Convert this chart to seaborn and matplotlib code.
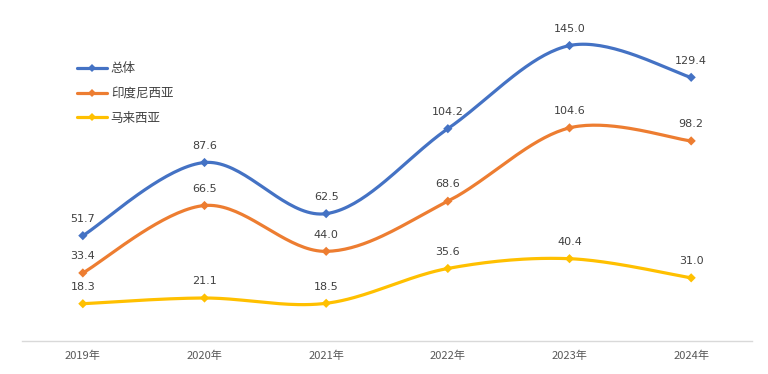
import numpy as np
import pandas as pd
import seaborn as sns
import matplotlib.pyplot as plt
from matplotlib.lines import Line2D

# datos
years = ['2019年', '2020年', '2021年', '2022年', '2023年', '2024年']
total = [51.7, 87.6, 62.5, 104.2, 145.0, 129.4]
indonesia = [33.4, 66.5, 44.0, 68.6, 104.6, 98.2]
malaysia = [18.3, 21.1, 18.5, 35.6, 40.4, 31.0]

series = {'总体': total, '印度尼西亚': indonesia, '马来西亚': malaysia}
colors = {'总体': '#4472C4', '印度尼西亚': '#ED7D31', '马来西亚': '#FFC000'}

df = pd.DataFrame({'year': years * 3,
                   'idx': list(range(len(years))) * 3,
                   'value': total + indonesia + malaysia,
                   'serie': sum([[k] * len(years) for k in series], [])})

sns.set_theme(style="white")
plt.rcParams['font.family'] = ['Noto Sans CJK SC', 'DejaVu Sans']


def smooth(xs, ys, n=40):
    # curva suavizada tipo Excel (Bezier con tangentes Catmull-Rom)
    xs = np.asarray(xs, float)
    ys = np.asarray(ys, float)
    pts = np.column_stack([xs, ys])
    out = []
    for i in range(len(pts) - 1):
        p0 = pts[i - 1] if i > 0 else pts[i]
        p1 = pts[i]
        p2 = pts[i + 1]
        p3 = pts[i + 2] if i + 2 < len(pts) else pts[i + 1]
        c1 = p1 + (p2 - p0) / 6
        c2 = p2 - (p3 - p1) / 6
        t = np.linspace(0, 1, n)[:, None]
        seg = ((1 - t) ** 3) * p1 + 3 * ((1 - t) ** 2) * t * c1 + 3 * (1 - t) * t ** 2 * c2 + t ** 3 * p2
        out.append(seg if i == 0 else seg[1:])
    seg = np.vstack(out)
    return seg[:, 0], seg[:, 1]


fig = plt.figure(figsize=(7.68, 3.74), dpi=100)
ax = fig.add_axes([22 / 768, 1 - 341 / 374, 730 / 768, 326 / 374])

for name, vals in series.items():
    sx, sy = smooth(range(len(years)), vals)
    ax.plot(sx, sy, color=colors[name], lw=2.3, solid_capstyle='round', zorder=2)

sns.scatterplot(data=df, x='idx', y='value', hue='serie', palette=colors,
                marker='D', s=22, edgecolor='none', legend=False, ax=ax, zorder=3)

for name, vals in series.items():
    for i, v in enumerate(vals):
        ax.annotate(f'{v:.1f}', (i, v), xytext=(0, 8.5), textcoords='offset points',
                    ha='center', va='bottom', fontsize=8, color='#404040',
                    family=['DejaVu Sans'])

ax.set_xlim(-0.5, len(years) - 0.5)
ax.set_ylim(0, 160)
ax.set_xticks(range(len(years)))
ax.set_xticklabels(years, fontsize=8, color='#595959')
ax.set_yticks([])
ax.set_xlabel('')
ax.set_ylabel('')
ax.tick_params(axis='x', length=0, pad=7)
for s in ['top', 'right', 'left']:
    ax.spines[s].set_visible(False)
ax.spines['bottom'].set_color('#D9D9D9')
ax.spines['bottom'].set_linewidth(1)

handles = [Line2D([0], [0], color=colors[n], lw=2.3, marker='D', markersize=4.5,
                  markeredgewidth=0) for n in series]
leg = ax.legend(handles, list(series.keys()), loc='upper left',
                bbox_to_anchor=(72 / 768, 1 - 57 / 374), bbox_transform=fig.transFigure,
                frameon=False, fontsize=9, handlelength=2.4, handletextpad=0.3,
                labelspacing=0.95, borderaxespad=0)
for t in leg.get_texts():
    t.set_color('#404040')

fig.savefig('out.png', dpi=100)
